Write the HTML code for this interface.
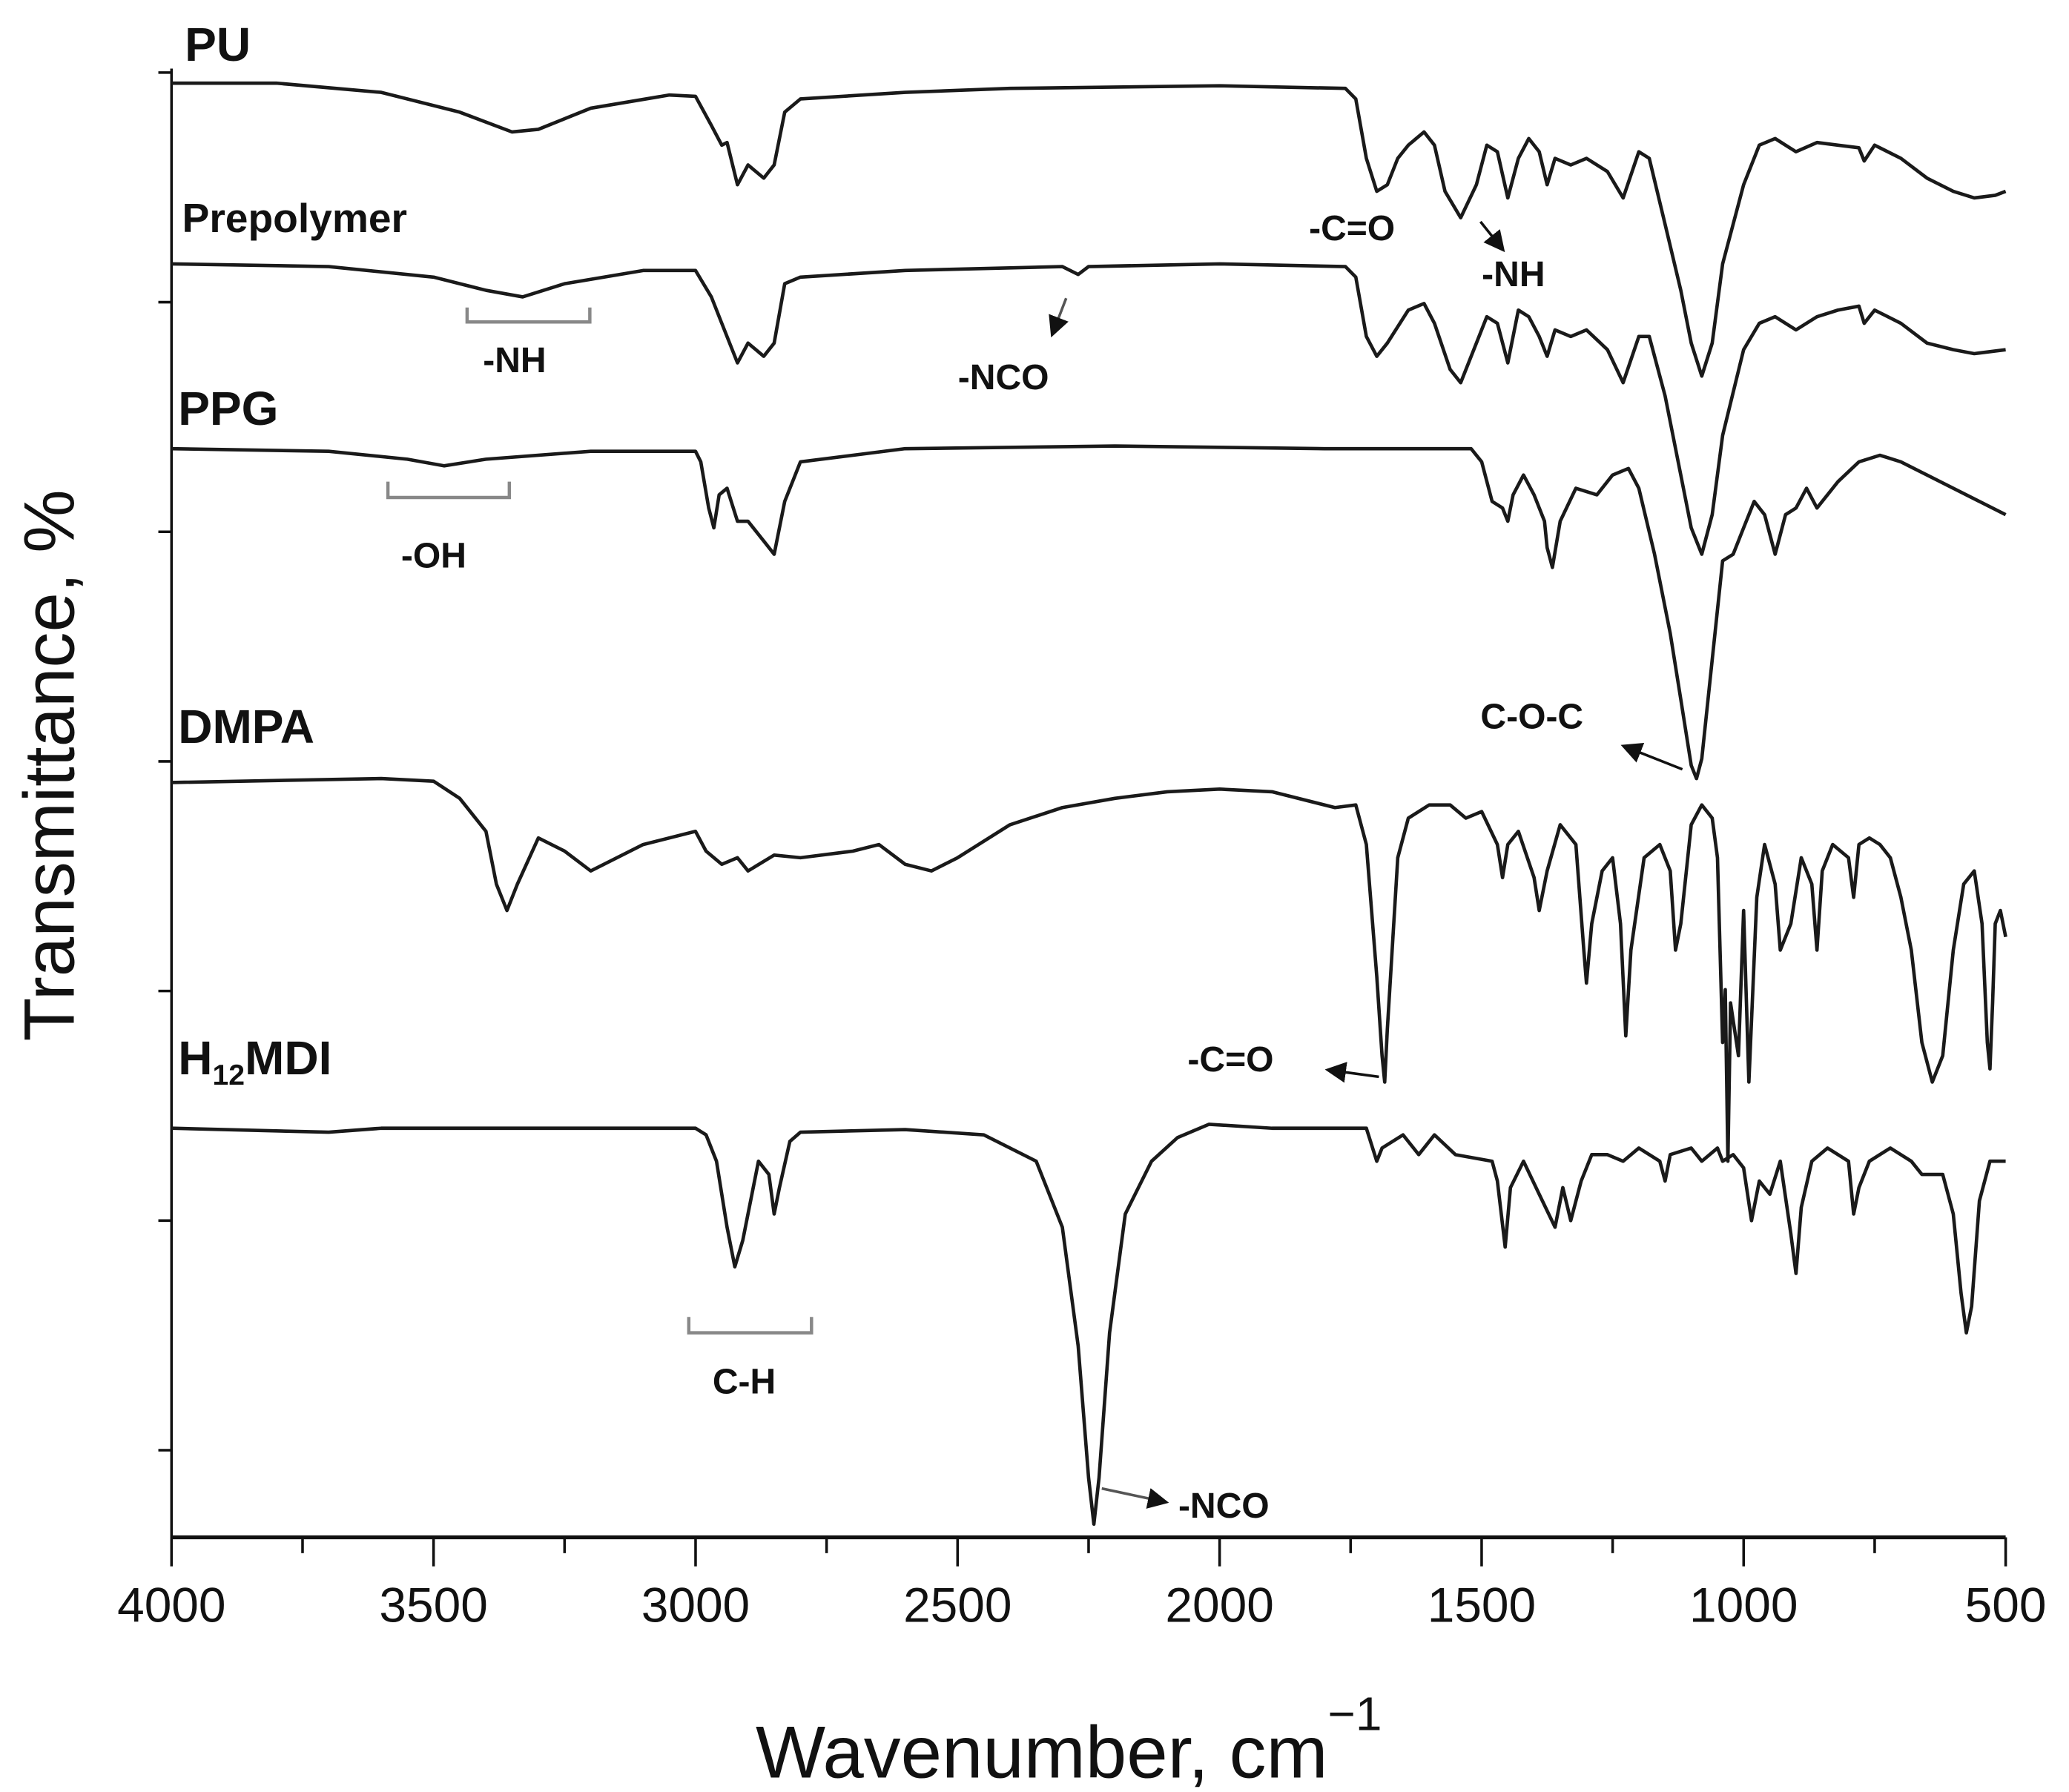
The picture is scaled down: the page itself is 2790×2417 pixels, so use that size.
<!DOCTYPE html>
<html><head><meta charset="utf-8"><style>
html,body{margin:0;padding:0;background:#fff}
svg{display:block}
text{font-family:"Liberation Sans",sans-serif;fill:#111}
.lbl{font-weight:bold}
</style></head><body>
<svg id="chart" width="2790" height="2417" viewBox="0 0 1568 1358" preserveAspectRatio="none" xmlns="http://www.w3.org/2000/svg">
<g id="axes"></g>
<g id="series"></g>
<g id="annot"></g>
<text transform="translate(56,580) rotate(-90)" text-anchor="middle" font-size="54">Transmittance, %</text>
<text x="810" y="1347" text-anchor="middle" font-size="56">Wavenumber, cm<tspan dy="-36" font-size="36">−1</tspan></text>
</svg>
<script>
const xTicks=[4000,3500,3000,2500,2000,1500,1000,500];
const xMinor=[3750,3250,2750,2250,1750,1250,750];
const yTickVals=[1110,936,762,588,414,240,66];
// values: offset units above the x axis (higher = more transmittance)
const puWn=[4000,3800,3600,3450,3350,3300,3200,3050,3000,2970,2950,2940,2920,2900,2870,2850,2830,2800,2600,2400,2000,1760,1740,1720,1700,1680,1660,1640,1610,1590,1570,1540,1510,1490,1470,1450,1430,1410,1390,1375,1360,1330,1300,1260,1230,1200,1180,1150,1120,1100,1080,1060,1040,1000,970,940,900,860,820,780,770,750,700,650,600,560,520,500];
const puT=[1102,1102,1095,1080,1065,1067,1083,1093,1092,1070,1055,1057,1025,1040,1030,1040,1080,1090,1095,1098,1100,1098,1090,1045,1020,1025,1045,1055,1065,1055,1020,1000,1025,1055,1050,1015,1045,1060,1050,1025,1045,1040,1045,1035,1015,1050,1045,995,945,905,880,905,965,1025,1055,1060,1050,1057,1055,1053,1043,1055,1045,1030,1020,1015,1017,1020];
const prWn=[4000,3700,3500,3400,3330,3250,3100,3000,2970,2950,2920,2900,2870,2850,2830,2800,2600,2300,2270,2250,2000,1760,1740,1720,1700,1680,1640,1610,1590,1560,1540,1510,1490,1470,1450,1430,1410,1390,1375,1360,1330,1300,1260,1230,1200,1180,1150,1120,1100,1080,1060,1040,1000,970,940,900,860,820,780,770,750,700,650,600,560,500];
const prT=[965,963,955,945,940,950,960,960,940,920,890,905,895,905,950,955,960,963,957,963,965,963,955,910,895,905,930,935,920,885,875,905,925,920,890,930,925,910,895,915,910,915,900,875,910,910,865,805,765,745,775,835,900,920,925,915,925,930,933,920,930,920,905,900,897,900];
const ppWn=[4000,3700,3550,3480,3400,3200,3000,2990,2975,2965,2955,2940,2920,2900,2870,2850,2830,2800,2600,2200,1800,1520,1500,1480,1460,1450,1440,1420,1400,1380,1375,1365,1350,1320,1280,1250,1220,1200,1170,1140,1120,1100,1090,1080,1060,1040,1020,1000,980,960,940,920,900,880,860,820,780,740,700,650,600,550,500];
const ppT=[825,823,817,812,817,823,823,815,780,765,790,795,770,770,755,745,785,815,825,827,825,825,815,785,780,770,790,805,790,770,750,735,770,795,790,805,810,795,745,685,635,585,575,590,665,740,745,765,785,775,745,775,780,795,780,800,815,820,815,805,795,785,775];
const dmWn=[4000,3600,3500,3450,3400,3380,3360,3340,3300,3250,3200,3100,3000,2980,2950,2920,2900,2850,2800,2700,2650,2600,2550,2500,2400,2300,2200,2100,2000,1900,1780,1740,1720,1700,1690,1685,1680,1660,1640,1600,1560,1530,1500,1470,1460,1450,1430,1400,1390,1375,1350,1320,1305,1300,1290,1270,1250,1235,1225,1215,1190,1160,1140,1130,1120,1100,1080,1060,1050,1040,1035,1030,1025,1010,1000,990,975,960,940,930,910,890,870,860,850,830,800,790,780,760,740,720,700,680,660,640,620,600,580,560,545,535,530,525,520,510,500];
const dmT=[572,575,573,560,535,495,475,495,530,520,505,525,535,520,510,515,505,517,515,520,525,510,505,515,540,553,560,565,567,565,553,555,525,425,365,345,385,515,545,555,555,545,550,525,500,525,535,500,475,505,540,525,445,420,465,505,515,465,380,445,515,525,505,445,465,540,555,545,515,375,415,285,405,365,475,345,485,525,495,445,465,515,495,445,505,525,515,485,525,530,525,515,485,445,375,345,365,445,495,505,465,375,355,405,465,475,455];
const mdWn=[4000,3700,3600,3000,2980,2960,2940,2925,2910,2880,2860,2850,2840,2820,2800,2600,2450,2350,2300,2270,2250,2240,2230,2210,2180,2130,2080,2020,1900,1720,1700,1690,1650,1620,1590,1550,1480,1470,1455,1445,1420,1390,1360,1345,1330,1310,1290,1260,1230,1200,1160,1150,1140,1100,1080,1050,1040,1020,1000,985,970,950,930,910,900,890,870,840,800,790,780,760,720,680,660,620,600,585,575,565,550,530,500];
const mdT=[310,307,310,310,305,285,235,205,225,285,275,245,265,300,307,309,305,285,235,145,45,10,45,155,245,285,303,313,310,310,285,295,305,290,305,290,285,270,220,265,285,260,235,265,240,270,290,290,285,295,285,270,290,295,285,295,285,290,280,240,270,260,285,230,200,250,285,295,285,245,265,285,295,285,275,275,245,185,155,175,255,285,285];
const seriesList=[["pu-spectrum",puWn,puT],["prepolymer-spectrum",prWn,prT],["ppg-spectrum",ppWn,ppT],["dmpa-spectrum",dmWn,dmT],["h12mdi-spectrum",mdWn,mdT]];
const X0=130,X1=1520,YB=1165;
function xs(w){return X0+(4000-w)/3500*(X1-X0);}
function ys(v){return YB-v;}
const NS="http://www.w3.org/2000/svg";
function mk(t,a,p){const e=document.createElementNS(NS,t);for(const k in a)e.setAttribute(k,a[k]);p.appendChild(e);return e;}
const ax=document.getElementById('axes');
let l=mk('line',{x1:X0,y1:YB,x2:X1,y2:YB,stroke:'#111','stroke-width':3},ax);


l=mk('line',{x1:X0,y1:YB,x2:X0,y2:52,stroke:'#111','stroke-width':2},ax);


xTicks.forEach(w=>{const t=mk('line',{x1:xs(w),y1:YB,x2:xs(w),y2:YB+22,stroke:'#111','stroke-width':2},ax);


const tx=mk('text',{x:xs(w),y:YB+64,'text-anchor':'middle','font-size':37},ax);tx.textContent=w;

});
xMinor.forEach(w=>{const t=mk('line',{x1:xs(w),y1:YB,x2:xs(w),y2:YB+12,stroke:'#111','stroke-width':2},ax);

});
yTickVals.forEach(v=>{const t=mk('line',{x1:X0-10,y1:ys(v),x2:X0,y2:ys(v),stroke:'#111','stroke-width':2},ax);

});
const sg=document.getElementById('series');
seriesList.forEach(s=>{let d='';s[1].forEach((w,i)=>{d+=(i?'L':'M')+xs(w).toFixed(1)+','+ys(s[2][i]).toFixed(1);});
const p=mk('path',{d:d,fill:'none',stroke:'#1a1a1a','stroke-width':2.6,'stroke-linejoin':'round'},sg);

});
</script>
<svg style="position:absolute;left:0;top:0" width="2790" height="2417" viewBox="0 0 1568 1358" preserveAspectRatio="none">
<defs><marker id="ah" markerWidth="8" markerHeight="8" refX="6" refY="4" orient="auto"><path d="M0,0L8,4L0,8z" fill="#111"/></marker></defs>
<text class="lbl" x="140" y="46" font-size="36">PU</text>
<text class="lbl" x="138" y="176" font-size="31">Prepolymer</text>
<text class="lbl" x="135" y="322" font-size="36">PPG</text>
<text class="lbl" x="135" y="563" font-size="36">DMPA</text>
<text class="lbl" x="135" y="814" font-size="36">H<tspan font-size="22" dy="8">12</tspan><tspan dy="-8">MDI</tspan></text>
<text class="lbl" x="992" y="182" font-size="27">-C=O</text>
<text class="lbl" x="1123" y="217" font-size="27">-NH</text>
<line x1="1122" y1="168" x2="1138" y2="188" stroke="#111" stroke-width="2" marker-end="url(#ah)"/>
<path d="M354,233V244H447V233" fill="none" stroke="#888" stroke-width="2.5"/>
<text class="lbl" x="366" y="282" font-size="27">-NH</text>
<text class="lbl" x="726" y="295" font-size="27">-NCO</text>
<line x1="808" y1="226" x2="798" y2="252" stroke="#555" stroke-width="2" marker-end="url(#ah)"/>
<path d="M294,365V377H386V365" fill="none" stroke="#888" stroke-width="2.5"/>
<text class="lbl" x="304" y="430" font-size="27">-OH</text>
<text class="lbl" x="1122" y="552" font-size="27">C-O-C</text>
<line x1="1275" y1="583" x2="1232" y2="566" stroke="#111" stroke-width="2" marker-end="url(#ah)"/>
<text class="lbl" x="900" y="812" font-size="27">-C=O</text>
<line x1="1045" y1="816" x2="1008" y2="811" stroke="#111" stroke-width="2" marker-end="url(#ah)"/>
<path d="M522,998V1010H615V998" fill="none" stroke="#888" stroke-width="2.5"/>
<text class="lbl" x="540" y="1056" font-size="27">C-H</text>
<text class="lbl" x="893" y="1150" font-size="27">-NCO</text>
<line x1="835" y1="1128" x2="882" y2="1138" stroke="#555" stroke-width="2" marker-end="url(#ah)"/>
</svg>
</body></html>
